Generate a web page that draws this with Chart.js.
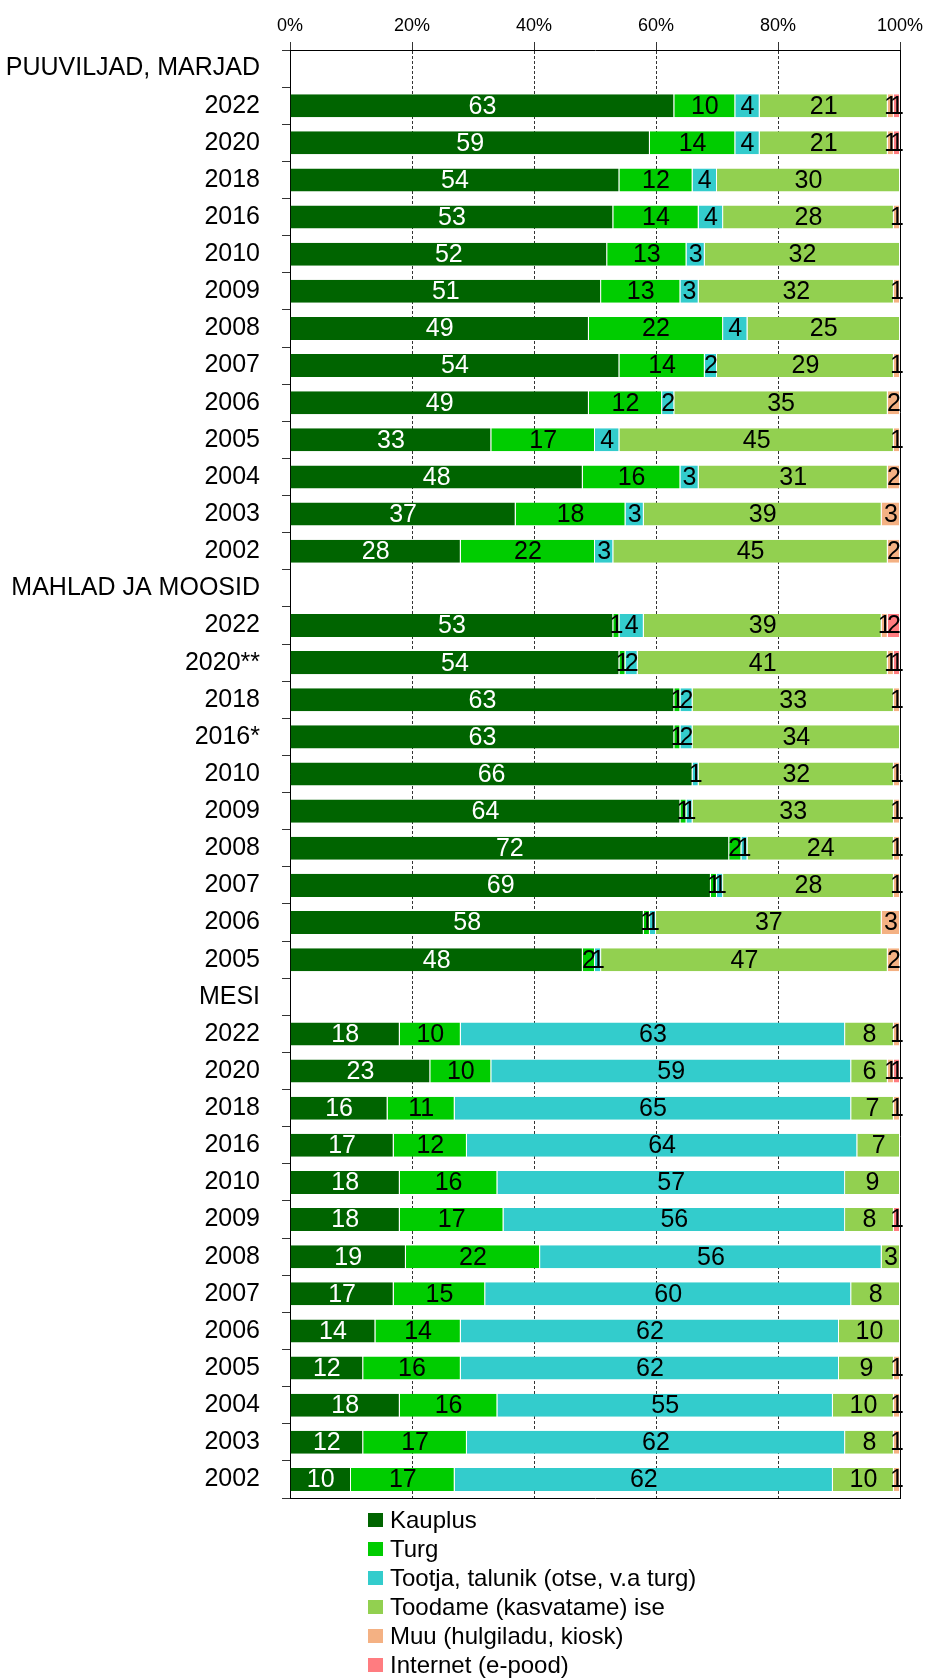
<!DOCTYPE html>
<html>
<head>
<meta charset="utf-8">
<script src="https://cdn.jsdelivr.net/npm/chart.js@4.4.1/dist/chart.umd.min.js"></script>
<style>
	body { margin: 0; background: #fff; }
	#wrap { position: relative; width: 926px; height: 1679px; }
	#legend { position: absolute; left: 368px; top: 1505px; font: 24px "Liberation Sans", Arial, sans-serif; color: #000; }
	#legend div { height: 29px; display: flex; align-items: center; }
	#legend span.box { display: inline-block; width: 15px; height: 14px; margin-right: 7px; }
</style>
</head>
<body>
<div id="wrap">
	<canvas id="chart" width="926" height="1679"></canvas>
	<div id="legend"></div>
</div>
<script>
const categories = [
	'PUUVILJAD, MARJAD', '2022', '2020', '2018', '2016', '2010', '2009', '2008', '2007', '2006', '2005', '2004', '2003', '2002',
	'MAHLAD JA MOOSID', '2022', '2020**', '2018', '2016*', '2010', '2009', '2008', '2007', '2006', '2005',
	'MESI', '2022', '2020', '2018', '2016', '2010', '2009', '2008', '2007', '2006', '2005', '2004', '2003', '2002'
];

const kauplus  = [null, 63, 59, 54, 53, 52, 51, 49, 54, 49, 33, 48, 37, 28, null, 53, 54, 63, 63, 66, 64, 72, 69, 58, 48, null, 18, 23, 16, 17, 18, 18, 19, 17, 14, 12, 18, 12, 10];
const turg     = [null, 10, 14, 12, 14, 13, 13, 22, 14, 12, 17, 16, 18, 22, null, 1, 1, 1, 1, 0, 1, 2, 1, 1, 2, null, 10, 10, 11, 12, 16, 17, 22, 15, 14, 16, 16, 17, 17];
const tootja   = [null, 4, 4, 4, 4, 3, 3, 4, 2, 2, 4, 3, 3, 3, null, 4, 2, 2, 2, 1, 1, 1, 1, 1, 1, null, 63, 59, 65, 64, 57, 56, 56, 60, 62, 62, 55, 62, 62];
const toodame  = [null, 21, 21, 30, 28, 32, 32, 25, 29, 35, 45, 31, 39, 45, null, 39, 41, 33, 34, 32, 33, 24, 28, 37, 47, null, 8, 6, 7, 7, 9, 8, 3, 8, 10, 9, 10, 8, 10];
const muu      = [null, 1, 1, 0, 1, 0, 1, 0, 1, 2, 1, 2, 3, 2, null, 1, 1, 1, 0, 1, 1, 1, 1, 3, 2, null, 1, 1, 1, 0, 0, 0, 0, 0, 0, 1, 1, 1, 1];
const internet = [null, 1, 1, 0, 0, 0, 0, 0, 0, 0, 0, 0, 0, 0, null, 2, 1, 0, 0, 0, 0, 0, 0, 0, 0, null, 0, 1, 0, 0, 0, 1, 0, 0, 0, 0, 0, 0, 0];

const seriesNames = ['Kauplus', 'Turg', 'Tootja, talunik (otse, v.a turg)', 'Toodame (kasvatame) ise', 'Muu (hulgiladu, kiosk)', 'Internet (e-pood)'];
const seriesData = [kauplus, turg, tootja, toodame, muu, internet];
const colors = ['#006400', '#00cc00', '#33cccc', '#92d050', '#f4b183', '#ff7c80'];

const FONT = '"Liberation Sans", Arial, sans-serif';

// numbers inside the bars
const barLabels = {
	id: 'barLabels',
	afterDatasetsDraw(chart) {
		const ctx = chart.ctx;
		ctx.save();
		ctx.font = '25px ' + FONT;
		ctx.textAlign = 'center';
		ctx.textBaseline = 'middle';
		chart.data.datasets.forEach((ds, i) => {
			const meta = chart.getDatasetMeta(i);
			meta.data.forEach((bar, j) => {
				const v = ds.data[j];
				if (!v) return;
				ctx.fillStyle = i === 0 ? '#fff' : '#000';
				ctx.fillText(v, (bar.x + bar.base) / 2, bar.y + 1);
			});
		});
		ctx.restore();
	}
};

const datasets = seriesNames.map((name, i) => ({
	label: name,
	data: seriesData[i],
	backgroundColor: colors[i],
	borderColor: 'rgba(255,255,255,0.6)',
	borderWidth: {top: 0, bottom: 0, left: 0, right: 1},
	barPercentage: 0.62,
	categoryPercentage: 1
}));

const chart = new Chart(document.getElementById('chart').getContext('2d'), {
	type: 'bar',
	data: {labels: categories, datasets: datasets},
	plugins: [barLabels],
	options: {
		indexAxis: 'y',
		responsive: false,
		animation: false,
		layout: {padding: {left: 0, right: 26, top: 0, bottom: 181}},
		plugins: {
			legend: {display: false},
			tooltip: {enabled: false}
		},
		scales: {
			x: {
				position: 'top',
				stacked: true,
				min: 0,
				max: 100,
				afterFit: (scale) => {
					scale.height = 50;
					scale.paddingLeft = 0;
					scale.paddingRight = 0;
				},
				ticks: {
					stepSize: 20,
					padding: 5,
					color: '#000',
					font: {family: FONT, size: 18},
					callback: (v) => v + '%'
				},
				grid: {
					color: (c) => (c.index === 0 || c.index === 5) ? '#000' : '#333',
					tickColor: '#333',
					tickLength: 8,
					lineWidth: 1
				},
				border: {
					color: '#000',
					dash: (c) => (c.index > 0 && c.index < 5) ? [3, 2] : []
				}
			},
			xBottom: {
				position: 'bottom',
				ticks: {display: false},
				grid: {display: false, drawTicks: false},
				border: {color: '#000'}
			},
			y: {
				stacked: true,
				afterFit: (scale) => { scale.width = 290; },
				ticks: {
					autoSkip: false,
					padding: 22,
					color: '#000',
					font: {family: FONT, size: 25}
				},
				grid: {
					drawOnChartArea: false,
					tickLength: 8,
					tickColor: '#333'
				},
				border: {color: '#000'}
			}
		}
	}
});

// legend as a plain vertical list under the plot
let legendHtml = '';
for (let i = 0; i < seriesNames.length; i++) {
	legendHtml += '<div><span class="box" style="background:' + colors[i] + '"></span>' + seriesNames[i] + '</div>';
}
document.getElementById('legend').innerHTML = legendHtml;
</script>
</body>
</html>
